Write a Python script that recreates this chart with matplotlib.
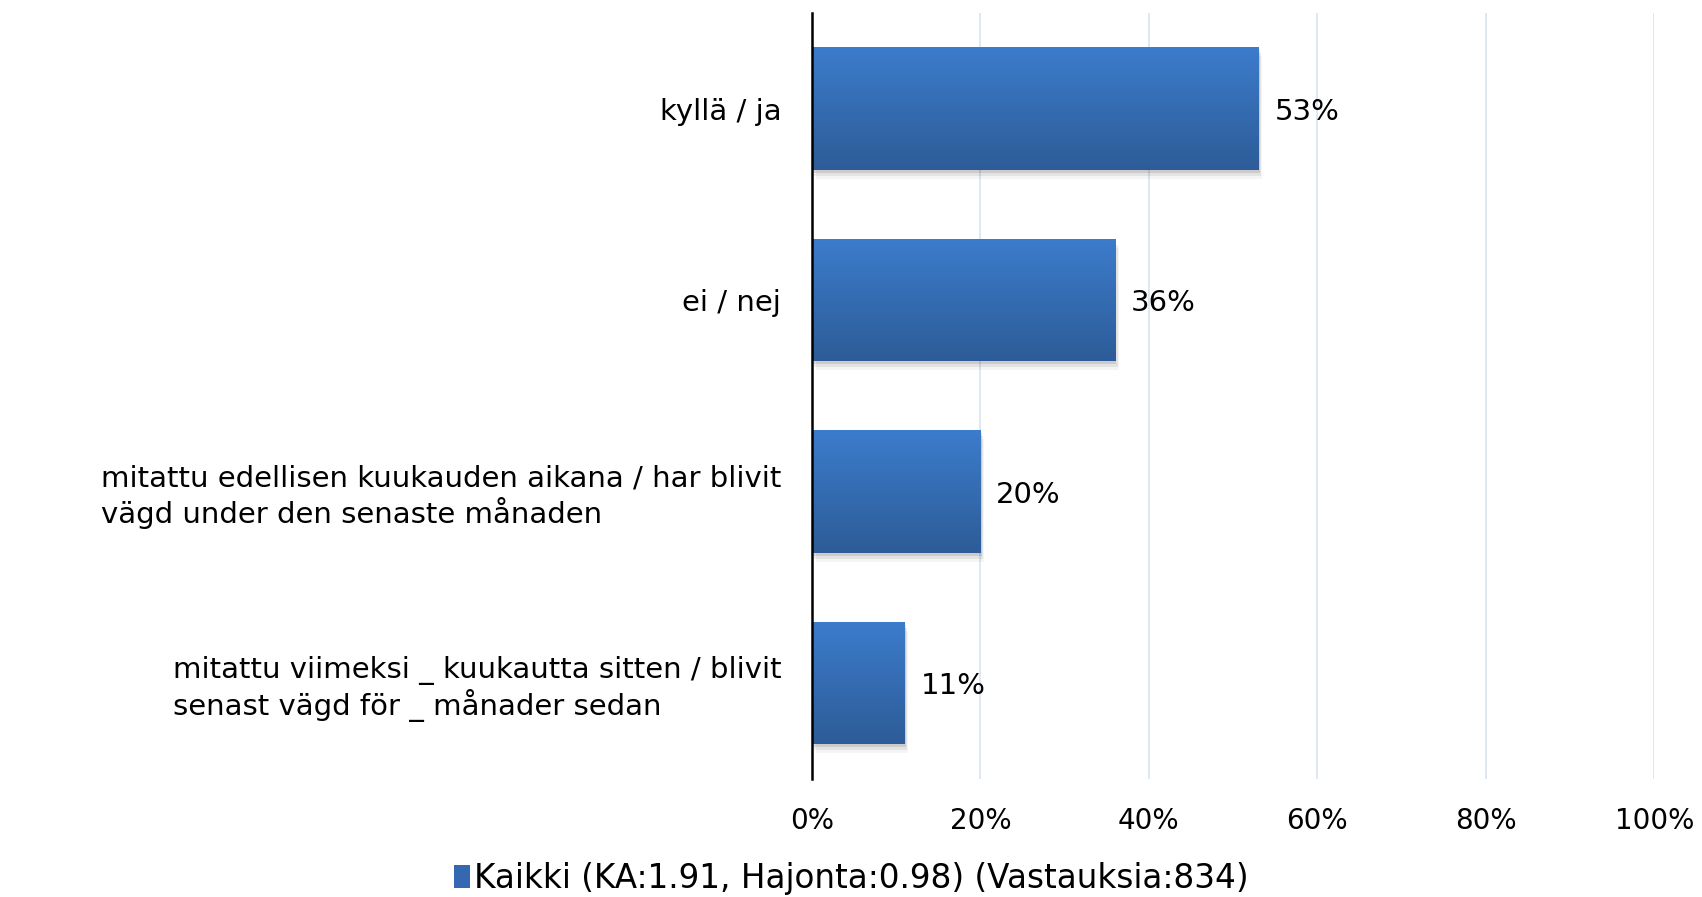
import numpy as np
import matplotlib
matplotlib.use("Agg")
import matplotlib.pyplot as plt
from matplotlib.patches import Rectangle
from matplotlib.colors import LinearSegmentedColormap

categories = [
    "kyllä / ja",
    "ei / nej",
    "mitattu edellisen kuukauden aikana / har blivit\nvägd under den senaste månaden",
    "mitattu viimeksi _ kuukautta sitten / blivit\nsenast vägd för _ månader sedan",
]
values = [53, 36, 20, 11]
xticks = [0, 20, 40, 60, 80, 100]
legend_label = "Kaikki (KA:1.91, Hajonta:0.98) (Vastauksia:834)"

plt.rcParams['font.family'] = ['DejaVu Sans']

fig = plt.figure(figsize=(17.02, 8.97), dpi=100)
ax = fig.add_axes([0.477, 0.1316, 0.495, 0.854])

grad = LinearSegmentedColormap.from_list("bar", ["#3C7CCC", "#2D5C98"])
ypos = np.arange(len(categories))
h = 0.64
for y, v in zip(ypos, values):
    # soft shadow
    for k, a in enumerate([0.10, 0.07, 0.04]):
        ax.add_patch(Rectangle((0.15 * (k + 1), y - h / 2 + 0.015 * (k + 1)), v, h,
                               color="#000000", alpha=a, lw=0, zorder=2))
    rect = Rectangle((0, y - h / 2), v, h, facecolor="none", lw=0, zorder=3)
    ax.add_patch(rect)
    im = ax.imshow(np.linspace(0, 1, 100).reshape(-1, 1), cmap=grad, aspect="auto",
                   extent=(0, v, y + h / 2, y - h / 2), zorder=3)
    im.set_clip_path(rect)
    ax.text(v + 1.9, y, f"{v}%", va="center_baseline", ha="left", fontsize=21)

ax.set_xlim(0, 100)
ax.set_ylim(len(categories) - 0.5, -0.5)
ax.set_yticks(ypos)
ax.set_yticklabels(categories, fontsize=21, ha="right", multialignment="left",
                   linespacing=1.15)
ax.set_xticks(xticks)
ax.set_xticklabels([f"{t}%" for t in xticks], fontsize=20)
ax.tick_params(length=0, axis="both")
ax.tick_params(axis="y", pad=22)
ax.tick_params(axis="x", pad=20)
ax.grid(axis="x", color="#D9E3EF", lw=1.2, zorder=0)
ax.set_axisbelow(True)
for s in ["top", "right", "bottom"]:
    ax.spines[s].set_visible(False)
ax.spines["left"].set_linewidth(1.8)
ax.spines["left"].set_zorder(5)

handle = Rectangle((0, 0), 1, 1, facecolor="#3468B0")
fig.legend([handle], [legend_label], loc="lower center", bbox_to_anchor=(0.5, -0.03),
           frameon=False, fontsize=23.5, handlelength=0.5, handleheight=0.7,
           handletextpad=0.12)

fig.savefig("out.png", dpi=100)
